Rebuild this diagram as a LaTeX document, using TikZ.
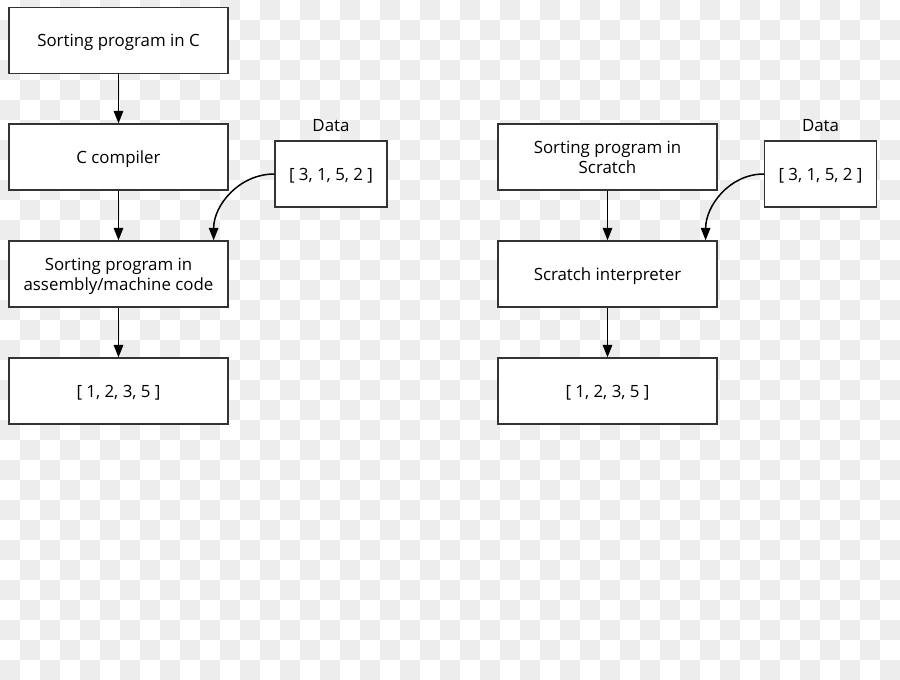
\documentclass[tikz,border=0pt]{standalone}
\usepackage{fontspec}
\setmainfont{Open Sans}
\usetikzlibrary{positioning,arrows.meta,calc}

\begin{document}
\begin{tikzpicture}[
    x=0.02cm, y=-0.02cm,
    box/.style ={
        draw=black!80,
        fill=white,
        line width=0.75pt,
        minimum width=4.38cm,
        minimum height=1.32cm,
        align=center,
        text depth=0pt,
        font=\fontsize{9.6}{11.5}\selectfont
    },
    databox/.style ={
        box,
        minimum width=2.24cm
    },
    tag/.style ={
        text depth=0pt,
        font=\fontsize{9.6}{11.5}\selectfont
    },
    arr/.style ={
        line width=0.85pt,
        -{Triangle[length=2.5mm,width=1.9mm]}
    }
    ]
    % checkered background
    \fill[white] (0,0) rectangle (900,680);
    \foreach \i in {0,...,44}
        \foreach \j in {0,...,33} {
            \pgfmathtruncatemacro\s{\i+\j}
            \ifodd\s \fill[black!7] (20*\i,20*\j) rectangle +(20,20); \fi
        };

    \foreach \x/ \pos/ \txt in {{src/(118.5,40.5)/Sorting program in C}, {cc/(118.5,157)/C compiler},
                                {asm/(118.5,274)/{Sorting program in\\assembly/machine code}}, {outl/(118.5,391)/{[ 1, 2, 3, 5 ]}},
                                {scr/(607.5,157)/{Sorting program in\\Scratch}}, {itp/(607.5,274)/Scratch interpreter},
                                {outr/(607.5,391)/{[ 1, 2, 3, 5 ]}}}
        \node[box] (\x) at \pos {\txt};

    \node[databox] (dl) at (331,174) {[ 3, 1, 5, 2 ]};
    \node[databox] (dr) at (820.5,174) {[ 3, 1, 5, 2 ]};
    \node[tag] (dlt) at (331,125) {Data};
    \node[tag] (drt) at (820.5,125) {Data};

    \coordinate (asmin) at ($(asm.north east)+(-15,0)$);
    \coordinate (itpin) at ($(itp.north east)+(-12,0)$);

    \foreach \src/ \dst in {src/cc, cc/asm, asm/outl, scr/itp, itp/outr}
        \draw[arr] (\src) -- (\dst);
    \draw[arr] (dl.west) to[out=180, in=90] (asmin);
    \draw[arr] (dr.west) to[out=180, in=90] (itpin);
\end{tikzpicture}
\end{document}
